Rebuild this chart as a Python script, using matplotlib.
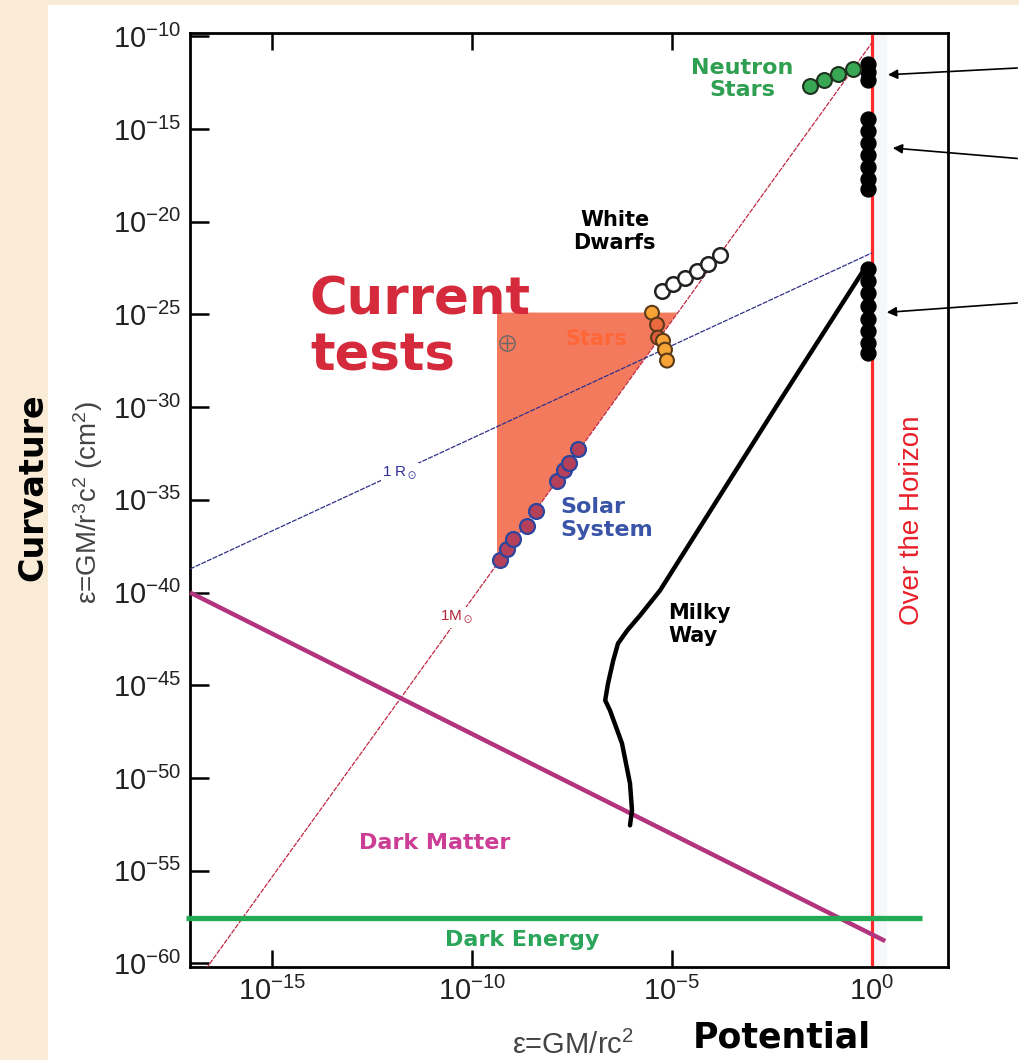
import numpy as np
import matplotlib.pyplot as plt
from matplotlib.patches import Polygon, Rectangle

plt.rcParams['font.family'] = ['Liberation Sans', 'DejaVu Sans']
plt.rcParams['mathtext.default'] = 'regular'

# all values are log10 of potential (x) and curvature (y)
x_range = [-17.05, 1.9]
y_range = [-60.2, -9.82]
x_ticks = [-15, -10, -5, 0]
y_ticks = [-60, -55, -50, -45, -40, -35, -30, -25, -20, -15, -10]

msun_x = [-16.65, 0.0]
msun_y = [-60.3, -10.34]
rsun_x = [-17.05, 0.0]
rsun_y = [-38.73, -21.68]

dark_matter_x = [-17.05, 0.33]
dark_matter_y = [-40.0, -58.8]
dark_energy_x = [-17.15, 1.25]
dark_energy_y = [-57.57, -57.57]

milky_x = [-6.05, -6.0, -6.05, -6.25, -6.55, -6.67, -6.6, -6.47, -6.35, -6.12, -5.8, -5.3, -2.3, -0.25]
milky_y = [-52.56, -51.75, -50.3, -48.14, -46.36, -45.82, -44.91, -43.67, -42.75, -42.05, -41.24, -39.89, -29.65, -22.75]

horizon_x = [-0.1] * 18
horizon_y = [-11.48, -11.91, -12.34,
             -14.45, -15.09, -15.74, -16.39, -17.03, -17.68, -18.22,
             -22.53, -23.18, -23.83, -24.53, -25.23, -25.88, -26.52, -27.06]

neutron_x = [-1.55, -1.2, -0.85, -0.475]
neutron_y = [-12.67, -12.34, -12.02, -11.75]

wd_x = [-5.25, -4.975, -4.675, -4.375, -4.1, -3.8]
wd_y = [-23.72, -23.34, -23.02, -22.64, -22.26, -21.78]

stars_x = [-5.5, -5.375, -5.35, -5.225, -5.175, -5.125]
stars_y = [-24.91, -25.55, -26.25, -26.42, -26.9, -27.49]

solar_x = [-9.3, -9.125, -8.975, -8.625, -8.4, -7.875, -7.7, -7.575, -7.35]
solar_y = [-38.27, -37.63, -37.09, -36.39, -35.63, -33.96, -33.37, -32.99, -32.24]

earth_x = [-9.125]
earth_y = [-26.52]

tests_x = [-9.375, -4.86, -9.375]
tests_y = [-24.9, -24.9, -38.47]

# arrows from the right edge: (tail x, tail y, head x, head y)
arrow_tail_x = [3.7, 3.7, 3.7]
arrow_tail_y = [-11.7, -16.6, -24.37]
arrow_head_x = [0.33, 0.45, 0.3]
arrow_head_y = [-12.08, -16.01, -24.9]

star_face = ['#f7a336', '#ea6a3e', '#e05a3c', '#f7a336', '#f7a336', '#f7a336']


def p(v):
    return 10.0 ** np.asarray(v, dtype=float)


fig = plt.figure(figsize=(10.2, 10.6), dpi=100, facecolor='#faebd7')
fig.patches.append(Rectangle((48 / 1020, 0), 1, 1 - 5 / 1060, transform=fig.transFigure,
                             facecolor='white', edgecolor='none', zorder=-10))
ax = fig.add_axes([190 / 1020, 93 / 1060, 758 / 1020, 934 / 1060])
ax.set_xscale('log')
ax.set_yscale('log')
ax.set_xlim(p(x_range))
ax.set_ylim(p(y_range))

# current tests triangle
ax.add_patch(Polygon(np.column_stack([p(tests_x), p(tests_y)]), closed=True,
                     facecolor='#f37a5c', edgecolor='none', zorder=1))

ax.axvspan(1, 10 ** 0.35, color='#f5f7f9', zorder=0)
ax.axvline(1, color='#ff2a2a', lw=2.3, zorder=2)

ax.plot(p(msun_x), p(msun_y), color='#c02844', lw=0.9, dashes=(4, 1), zorder=3)
ax.plot(p(rsun_x), p(rsun_y), color='#30308a', lw=0.9, dashes=(4, 1), zorder=3)
ax.plot(p(dark_matter_x), p(dark_matter_y), color='#b2347e', lw=3.2, zorder=3,
        solid_capstyle='butt', clip_on=False)
ax.plot(p(dark_energy_x), p(dark_energy_y), color='#22aa55', lw=3.8, zorder=3,
        solid_capstyle='butt', clip_on=False)
ax.plot(p(milky_x), p(milky_y), color='black', lw=3.2, zorder=3,
        solid_joinstyle='round', solid_capstyle='round')

ax.scatter(p(horizon_x), p(horizon_y), s=115, color='black', zorder=5)
ax.scatter(p(neutron_x), p(neutron_y), s=115, facecolor='#39a653', edgecolor='#1d3320', lw=1.5, zorder=5)
ax.scatter(p(wd_x), p(wd_y), s=110, facecolor='white', edgecolor='#222222', lw=1.8, zorder=5)
ax.scatter(p(stars_x), p(stars_y), s=100, facecolor=star_face, edgecolor='#5a3a18', lw=1.5, zorder=5)
ax.scatter(p(solar_x), p(solar_y), s=115, facecolor='#b5405a', edgecolor='#2b45a0', lw=1.6, zorder=5)
ax.plot(p(earth_x), p(earth_y), 'o', ms=11, mfc='none', mec='#666666', mew=1.0, zorder=5)
ax.plot(p(earth_x), p(earth_y), '+', ms=9, mec='#666666', mew=1.0, zorder=5)

for tx, ty, hx, hy in zip(arrow_tail_x, arrow_tail_y, arrow_head_x, arrow_head_y):
    ax.annotate('', xy=(10 ** hx, 10 ** hy), xytext=(10 ** tx, 10 ** ty),
                arrowprops=dict(arrowstyle='-|>', color='black', lw=1.2, mutation_scale=14),
                annotation_clip=False)

bold = dict(family='DejaVu Sans', weight='bold')
ax.text(10 ** -3.25, 10 ** -12.29, 'Neutron\nStars', color='#2f9f52', fontsize=16,
        ha='center', va='center', linespacing=1.1, zorder=6, **bold)
ax.text(10 ** -6.43, 10 ** -20.54, 'White\nDwarfs', color='black', fontsize=15,
        ha='center', va='center', linespacing=1.2, zorder=6, **bold)
ax.text(10 ** -14.05, 10 ** -25.75, 'Current\ntests', color='#d42a3c', fontsize=37,
        ha='left', va='center', linespacing=1.15, zorder=6, **bold)
ax.text(10 ** -6.9, 10 ** -26.31, 'Stars', color='#ff6638', fontsize=15,
        ha='center', va='center', zorder=6, **bold)
ax.text(10 ** -7.8, 10 ** -36.0, 'Solar\nSystem', color='#3a55a8', fontsize=16,
        ha='left', va='center', linespacing=1.15, zorder=6, **bold)
ax.text(10 ** -5.1, 10 ** -41.73, 'Milky\nWay', color='black', fontsize=15,
        ha='left', va='center', linespacing=1.2, zorder=6, **bold)
ax.text(10 ** -10.93, 10 ** -53.53, 'Dark Matter', color='#cc3d95', fontsize=16,
        ha='center', va='center', zorder=6, **bold)
ax.text(10 ** -8.75, 10 ** -58.76, 'Dark Energy', color='#2aa55a', fontsize=16,
        ha='center', va='center', zorder=6, **bold)
ax.text(10 ** -11.8, 10 ** -33.58, r'1 R$_\odot$', color='#30309a', fontsize=11,
        ha='center', va='center', zorder=4,
        bbox=dict(facecolor='white', edgecolor='none', pad=1))
ax.text(10 ** -10.38, 10 ** -41.35, r'1M$_\odot$', color='#b02538', fontsize=11,
        ha='center', va='center', zorder=4,
        bbox=dict(facecolor='white', edgecolor='none', pad=1))
ax.text(10 ** 1.0, 10 ** -36.1, 'Over the Horizon', color='#e8202a', fontsize=20,
        rotation=90, ha='center', va='center', zorder=6)

ax.set_xticks(p(x_ticks))
ax.set_yticks(p(y_ticks))
ax.minorticks_off()
ax.tick_params(which='major', direction='in', width=1.8, labelsize=21,
               labelcolor='#222222', top=True, right=False)
ax.tick_params(axis='y', length=14, pad=6)
ax.tick_params(axis='x', length=12, pad=7)
for s in ax.spines.values():
    s.set_linewidth(2)

fig.text(33 / 1020, 1 - 487 / 1060, 'Curvature', rotation=90, fontsize=24,
         ha='center', va='center', **bold)
fig.text(88 / 1020, 1 - 502 / 1060, 'ε=GM/r$^3$c$^2$ (cm$^2$)', rotation=90, fontsize=20,
         color='#444444', ha='center', va='center')
fig.text(573 / 1020, 1 - 1045 / 1060, 'ε=GM/rc$^2$', fontsize=21, color='#444444',
         ha='center', va='center')
fig.text(782 / 1020, 1 - 1037 / 1060, 'Potential', fontsize=25, ha='center', va='center', **bold)

fig.savefig('out.png', dpi=100)
